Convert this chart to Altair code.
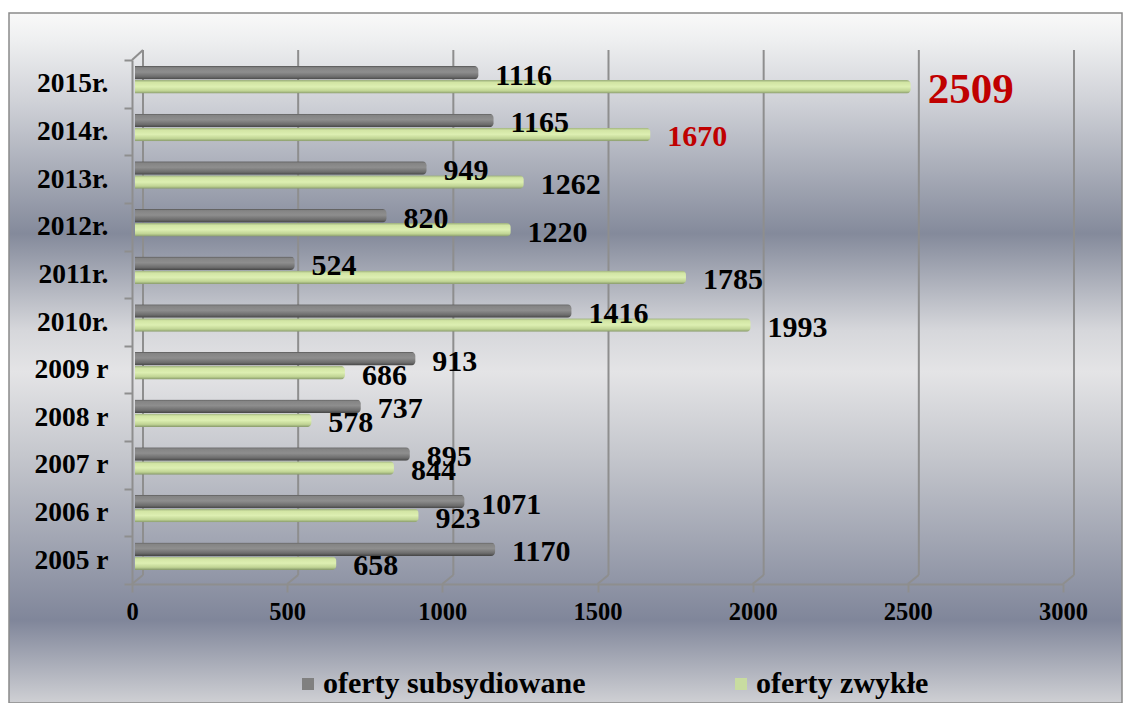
import altair as alt
import pandas as pd

years = ["2005 r", "2006 r", "2007 r", "2008 r", "2009 r", "2010r.", "2011r.",
         "2012r.", "2013r.", "2014r.", "2015r."]
subsydiowane = [1170, 1071, 895, 737, 913, 1416, 524, 820, 949, 1165, 1116]
zwykle = [658, 923, 844, 578, 686, 1993, 1785, 1220, 1262, 1670, 2509]
series_names = ["oferty subsydiowane", "oferty zwykłe"]
x_ticks = [0, 500, 1000, 1500, 2000, 2500, 3000]

rows = []
for y, a, b in zip(years, subsydiowane, zwykle):
    rows.append({"year": y, "series": series_names[0], "value": a})
    rows.append({"year": y, "series": series_names[1], "value": b})
df = pd.DataFrame(rows)
ticks_df = pd.DataFrame({"t": x_ticks})
one = pd.DataFrame({"a": [0]})

FONT = "Liberation Serif"
year_order = years[::-1]
xscale = alt.Scale(domain=[0, 3000], nice=False, zero=True)
yscale = alt.Scale(paddingInner=0, paddingOuter=0)


def grad(stops):
    return alt.LinearGradient(
        gradient="linear",
        stops=[alt.GradientStop(color=c, offset=o) for o, c in stops],
        x1=0, x2=0, y1=0, y2=1,
    )


bg_grad = grad([
    (0.0, "#f9f9f9"), (0.04, "#eeeff0"), (0.13, "#cfd1d7"), (0.32, "#848a9b"),
    (0.46, "#d6d7db"), (0.52, "#e4e4e6"), (0.64, "#c5c7cd"), (0.88, "#80869a"),
    (1.0, "#cfd0d4"),
])
gray_grad = grad([(0.0, "#555555"), (0.12, "#848484"), (0.45, "#8e8e8e"),
                  (0.8, "#6c6c6c"), (1.0, "#444444")])
green_grad = grad([(0.0, "#9aad7b"), (0.18, "#d2e5a4"), (0.5, "#ddefb2"),
                   (0.8, "#c0d494"), (1.0, "#86986a")])

x_axis = alt.Axis(values=x_ticks, format="d", zindex=1, grid=False, labelFlush=False,
                  domainColor="#8e8e8e", domainWidth=2, tickColor="#8e8e8e",
                  tickWidth=2, tickSize=8, labelFont=FONT, labelFontWeight="bold",
                  labelColor="black", labelFontSize=24.5, labelPadding=8)
y_axis = alt.Axis(tickBand="extent", zindex=1, grid=False,
                  domainColor="#8e8e8e", domainWidth=2, tickColor="#8e8e8e",
                  tickWidth=2, tickSize=8, labelFont=FONT, labelFontWeight="bold",
                  labelColor="black", labelFontSize=27.5, labelPadding=16)

background = alt.Chart(one).mark_rect(
    fill=bg_grad, stroke="#8a8a8a", strokeWidth=1.5
).encode(x=alt.value(-123), x2=alt.value(990), y=alt.value(-47), y2=alt.value(643))

walls = alt.Chart(ticks_df).mark_rule(
    color="#8e8e8e", strokeWidth=2, xOffset=11
).encode(x=alt.X("t:Q", scale=xscale, title=None, axis=x_axis),
         y=alt.value(-10), y2=alt.value(515))

floor_diag = alt.Chart(ticks_df).mark_rule(
    color="#8e8e8e", strokeWidth=2, x2Offset=11
).encode(x=alt.X("t:Q", scale=xscale, title=None, axis=x_axis), x2="t:Q",
         y=alt.value(524), y2=alt.value(515))

top_diag = alt.Chart(one).mark_rule(
    color="#8e8e8e", strokeWidth=2, x2Offset=11
).encode(x=alt.X("a:Q", scale=xscale, title=None, axis=x_axis), x2="a:Q",
         y=alt.value(0), y2=alt.value(-10))

gray_bars = alt.Chart(df).transform_filter(
    alt.datum.series == series_names[0]
).mark_bar(size=13.5, yOffset=-11, xOffset=3, cornerRadiusEnd=4, fill=gray_grad).encode(
    x=alt.X("value:Q", scale=xscale, title=None, axis=x_axis),
    y=alt.Y("year:N", sort=year_order, title=None, scale=yscale, axis=y_axis),
)

green_bars = alt.Chart(df).transform_filter(
    alt.datum.series == series_names[1]
).mark_bar(size=13.5, yOffset=3, xOffset=3, cornerRadiusEnd=4, fill=green_grad).encode(
    x=alt.X("value:Q", scale=xscale, title=None, axis=x_axis),
    y=alt.Y("year:N", sort=year_order, title=None, scale=yscale, axis=y_axis),
)

gray_text = alt.Chart(df).transform_filter(
    alt.datum.series == series_names[0]
).mark_text(align="left", baseline="middle", dx=17, dy=-8, font=FONT,
            fontWeight="bold", fontSize=30, color="black").encode(
    x=alt.X("value:Q", scale=xscale, title=None, axis=x_axis),
    y=alt.Y("year:N", sort=year_order, title=None, scale=yscale, axis=y_axis),
    text="value:Q",
)

green_text = alt.Chart(df).transform_filter(
    alt.datum.series == series_names[1]
).mark_text(align="left", baseline="middle", dx=17, dy=6, font=FONT,
            fontWeight="bold").encode(
    x=alt.X("value:Q", scale=xscale, title=None, axis=x_axis),
    y=alt.Y("year:N", sort=year_order, title=None, scale=yscale, axis=y_axis),
    text="value:Q",
    size=alt.condition("datum.year == '2015r.'", alt.value(43), alt.value(30)),
    color=alt.condition("datum.year == '2015r.' || datum.year == '2014r.'",
                        alt.value("#c00000"), alt.value("black")),
)

legend_layer = alt.Chart(df).mark_bar().encode(
    x=alt.value(0), x2=alt.value(0),
    y=alt.Y("year:N", sort=year_order, title=None, scale=yscale, axis=y_axis),
    color=alt.Color("series:N", title=None,
                    scale=alt.Scale(domain=series_names, range=["#808080", "#c8dca0"]),
                    legend=alt.Legend(orient="none", legendX=161, legendY=609,
                                      direction="horizontal")),
)

chart = alt.layer(
    background, walls, floor_diag, top_diag, gray_bars, green_bars,
    gray_text, green_text, legend_layer,
).properties(
    width=931, height=524,
    padding={"left": 124, "top": 52, "right": 61, "bottom": 119},
    autosize=alt.AutoSizeParams(type="none"),
).configure_view(stroke=None, fill=None).configure_legend(
    symbolType="square", symbolSize=144, symbolStrokeWidth=0,
    labelFont=FONT, labelFontSize=30, labelFontWeight="bold", labelColor="black",
    columnPadding=140, labelOffset=0, labelLimit=400,
)

chart.save("out.html", embed_options={"renderer": "svg", "actions": False})
